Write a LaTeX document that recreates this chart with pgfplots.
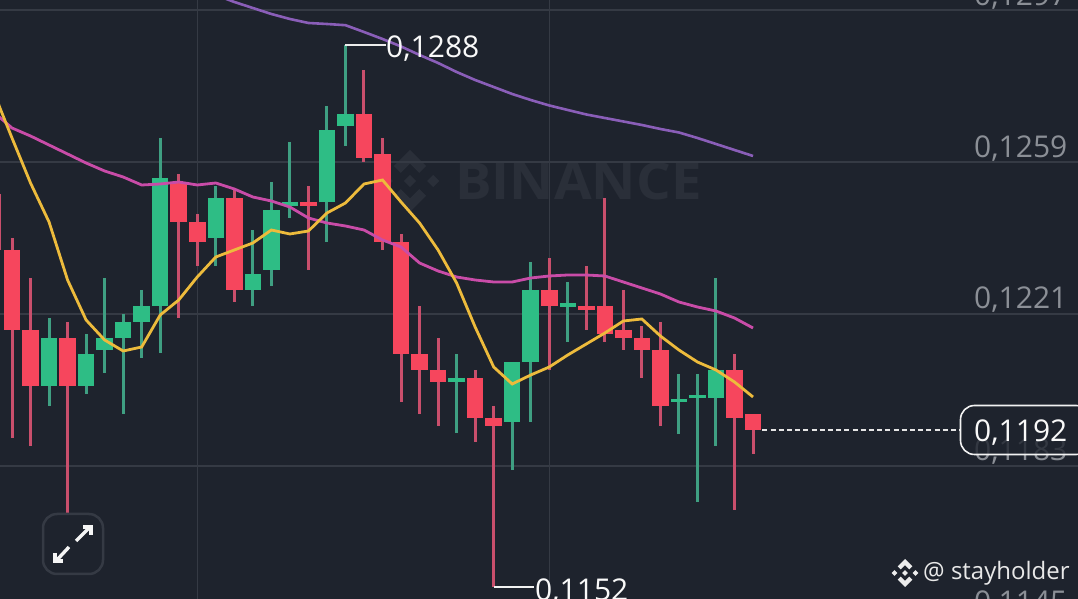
\documentclass[border=0pt]{standalone}
\usepackage{pgfplots}
\usepackage{pgfplotstable}
\usepackage{fontspec}
\setmainfont{Open Sans}
\pgfplotsset{compat=1.18}
\definecolor{bg}{HTML}{1E232D}
\definecolor{gridc}{HTML}{353A44}
\definecolor{upb}{HTML}{2EBD85}
\definecolor{dnb}{HTML}{F6465D}
\definecolor{upw}{HTML}{3F9F82}
\definecolor{dnw}{HTML}{C94F6C}
\definecolor{ma1}{HTML}{EDBB3C}
\definecolor{ma2}{HTML}{C94CA8}
\definecolor{ma3}{HTML}{8A5EB8}
\definecolor{lab}{HTML}{8B8F96}
\definecolor{wm}{HTML}{2A2F39}
% i high top bottom low
\pgfplotstableread{
i h t b l
0 .12400 .12370 .12170 .11900
1 .12300 .12170 .12030 .11880
3 .12190 .12150 .12030 .11710
9 .12560 .12540 .12440 .12200
10 .12460 .12440 .12390 .12330
12 .12520 .12500 .12270 .12240
16 .12530 .12490 .12480 .12320
19 .12820 .12710 .12600 .12590
20 .12650 .12610 .12390 .12370
21 .12410 .12390 .12110 .11990
22 .12230 .12110 .12070 .11960
23 .12150 .12070 .12040 .11930
25 .12070 .12050 .11950 .11890
26 .11980 .11950 .11930 .115275
29 .12350 .12270 .12230 .12070
31 .12330 .12230 .12220 .12170
32 .12500 .12230 .12160 .12140
33 .12270 .12170 .12150 .12120
34 .12180 .12150 .12120 .12050
35 .12190 .12120 .11980 .11930
39 .12110 .12070 .11950 .11720
40 .11960 .11960 .11920 .11860
}\redc
\pgfplotstableread{
i h t b l
2 .12200 .12150 .12030 .11980
4 .12160 .12110 .12030 .12010
5 .12300 .12150 .12120 .120625
6 .12210 .12190 .12150 .11960
7 .12270 .12230 .12190 .12100
8 .12650 .12550 .12230 .121125
11 .12530 .12500 .12400 .12330
13 .12420 .12310 .12270 .12230
14 .12540 .12470 .12320 .12280
15 .12640 .12490 .12480 .12450
17 .12730 .12670 .12490 .12390
18 .128825 .12710 .12680 .12630
24 .12110 .12050 .12040 .119125
27 .12090 .12090 .11940 .11820
28 .12340 .12270 .12090 .11940
30 .12290 .122375 .122275 .12140
36 .12060 .119975 .11990 .11910
37 .12060 .120075 .12000 .11740
38 .12300 .12070 .12000 .11880
}\greenc
\pgfplotstableread{
i y
-1 .12770
-0.65 .12725
0 .12650
1 .125375
2 .12440
3 .12295
4 .12195
5 .12145
6 .121175
7 .121275
8 .122075
9 .12245
10 .123025
11 .123525
12 .12370
13 .123875
14 .12420
15 .12410
16 .124175
17 .124625
18 .124875
19 .12535
20 .12545
21 .12490
22 .124375
23 .12370
24 .122875
25 .121775
26 .120775
27 .12035
28 .120575
29 .120775
30 .121075
31 .12135
32 .121625
33 .121925
34 .121975
35 .12155
36 .12120
37 .12090
38 .12070
39 .12040
40 .120025
}\maA
\pgfplotstableread{
i y
-1 .12715
0 .12675
1 .12655
2 .126325
3 .12610
4 .125875
5 .125675
6 .125525
7 .125325
8 .12535
9 .12540
10 .125325
11 .125375
12 .125225
13 .125025
14 .124925
15 .124775
16 .12450
17 .124375
18 .12430
19 .12420
20 .12395
21 .123775
22 .123375
23 .123175
24 .123025
25 .12295
26 .12290
27 .12290
28 .12300
29 .12305
30 .123075
31 .123075
32 .12305
33 .12290
34 .12275
35 .12260
36 .12240
37 .122275
38 .122175
39 .12200
40 .12175
}\maB
\pgfplotstableread{
i y
11 .130075
12 .12990
13 .12975
14 .12960
15 .129475
16 .129375
17 .12935
18 .12932
19 .12915
20 .128975
21 .128788
22 .128575
23 .128375
24 .12815
25 .12795
26 .127775
27 .1276
28 .12745
29 .127313
30 .1272
31 .127088
32 .1270
33 .126913
34 .126825
35 .126725
36 .126638
37 .1265
38 .12635
39 .1262
40 .12605
}\maC
\newcommand{\binlogo}[4]{%
\begin{scope}[shift={({#1*1pt},{(599-#2)*1pt})},x=#3pt,y=#3pt]
\fill[#4] (0,.2)--(.2,0)--(0,-.2)--(-.2,0)--cycle;
\fill[#4] (-.75,.2)--(-.55,0)--(-.75,-.2)--(-.95,0)--cycle;
\fill[#4] (.75,.2)--(.95,0)--(.75,-.2)--(.55,0)--cycle;
\fill[#4] (0,1)--(.52,.48)--(.3,.26)--(0,.56)--(-.3,.26)--(-.52,.48)--cycle;
\fill[#4] (0,-1)--(.52,-.48)--(.3,-.26)--(0,-.56)--(-.3,-.26)--(-.52,-.48)--cycle;
\end{scope}}
\newcommand{\fs}[1]{\fontsize{#1}{#1}\selectfont}
\pgfplotsset{
 wick/.style={draw=none,mark=none,forget plot,
   error bars/.cd,y dir=minus,y explicit,error mark=none,
   error bar style={line width=3pt,line cap=butt,draw=#1}},
 body/.style={draw=none,mark=none,forget plot,
   error bars/.cd,y dir=minus,y explicit,error mark=none,
   error bar style={line width=16.5pt,line cap=butt,draw=#1}},
}
\begin{document}
\begin{tikzpicture}
\useasboundingbox (0,0) rectangle (1078pt,599pt);
\clip (0,0) rectangle (1078pt,599pt);
\fill[bg] (0,0) rectangle (1078pt,599pt);
\binlogo{410}{181}{31}{wm}
\node[anchor=west,inner sep=0pt,text=wm,xscale=1.07] at (455pt,418pt) {\fs{51}\bfseries BINANCE};
\begin{axis}[
 at={(0pt,0pt)},anchor=south west,
 scale only axis,width=1078pt,height=599pt,
 xmin=-0.648,xmax=57.54,ymin=0.114975,ymax=0.12995,
 xtick={10,29},ytick={0.1183,0.1221,0.1259,0.1297},
 xmajorgrids,ymajorgrids,
 grid style={draw=gridc,line width=1.4pt},
 xticklabel=\empty,yticklabel=\empty,
 tick style={draw=none},axis line style={draw=none},
 scaled y ticks=false,
]
\addplot[dnw,line width=3pt,line cap=butt,forget plot] coordinates {(-0.68,.12510)(-0.68,.12370)};
\addplot[wick=dnw] table[x=i,y=h,y error minus expr=\thisrow{h}-\thisrow{l}] {\redc};
\addplot[wick=upw] table[x=i,y=h,y error minus expr=\thisrow{h}-\thisrow{l}] {\greenc};
\addplot[body=dnb] table[x=i,y=t,y error minus expr=\thisrow{t}-\thisrow{b}] {\redc};
\addplot[body=upb] table[x=i,y=t,y error minus expr=\thisrow{t}-\thisrow{b}] {\greenc};
\addplot[ma3,line width=2.6pt,forget plot] table[x=i,y=y] {\maC};
\addplot[ma2,line width=2.8pt,forget plot] table[x=i,y=y] {\maB};
\addplot[ma1,line width=2.8pt,forget plot] table[x=i,y=y] {\maA};
\addplot[white!85!gray,line width=1.8pt,forget plot] coordinates {(18,.128825)(20.2,.128825)};
\addplot[white!90!gray,line width=1.8pt,forget plot] coordinates {(26,.115275)(28.2,.115275)};
\addplot[white!80!gray,line width=1.6pt,dash pattern=on 5pt off 3.2pt,forget plot] coordinates {(40.5,.1192)(51.2,.1192)};
\end{axis}
\begin{scope}[x=1pt,y=-1pt,shift={(0pt,599pt)}]
\node[anchor=west,inner sep=0pt,text=lab] at (974,-3) {\fs{30}0,1297};
\node[anchor=west,inner sep=0pt,text=lab] at (974,149) {\fs{30}0,1259};
\node[anchor=west,inner sep=0pt,text=lab] at (974,300) {\fs{30}0,1221};
\node[anchor=west,inner sep=0pt,text=lab] at (974,452) {\fs{30}0,1183};
\node[anchor=west,inner sep=0pt,text=lab] at (974,604) {\fs{30}0,1145};
\fill[bg,fill opacity=.8,rounded corners=14pt] (960.5,405.5) rectangle (1090,454.5);
\draw[white!90!gray,line width=1.6pt,rounded corners=14pt] (960.5,405.5) rectangle (1090,454.5);
\node[anchor=west,inner sep=0pt,text=white!95!gray] at (974,433) {\fs{30}0,1192};
\node[anchor=west,inner sep=0pt,text=white!95!gray] at (386,49) {\fs{30}0,1288};
\node[anchor=west,inner sep=0pt,text=white!95!gray] at (535,592) {\fs{30}0,1152};
% expand button
\filldraw[fill=bg,draw=gridc,line width=2.5pt,rounded corners=14pt] (43,514) rectangle (103,574);
\draw[white!92!gray,line width=3.4pt] (76,541)--(90,527);
\draw[white!92!gray,line width=3.4pt] (83,527)--(91,527)--(91,535);
\draw[white!92!gray,line width=3.4pt] (69,547)--(56,561);
\draw[white!92!gray,line width=3.4pt] (55,553)--(55,561)--(63,561);
\node[anchor=west,inner sep=0pt,text=white!82!gray] at (923,573) {\fs{24}@ stayholder};
\end{scope}
\binlogo{905}{573}{14}{white!85!gray}
\end{tikzpicture}
\end{document}
